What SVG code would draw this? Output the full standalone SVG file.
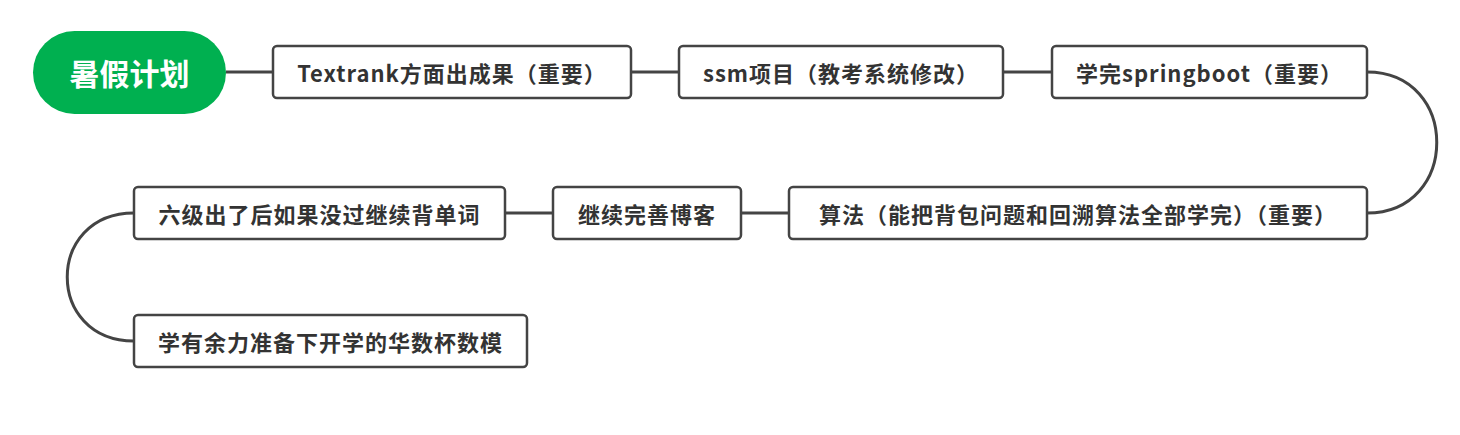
<svg xmlns="http://www.w3.org/2000/svg" width="1460" height="435" viewBox="0 0 1460 435">
<style>
.box{fill:#fff;stroke:#444;stroke-width:2.5}
.t{font-family:"Noto Sans CJK SC","Noto Sans",sans-serif;font-weight:bold;font-size:22px;letter-spacing:1px;fill:#333;text-anchor:middle;dominant-baseline:central}
.root{font-family:"Noto Sans CJK SC",sans-serif;font-weight:bold;font-size:30px;fill:#fff;text-anchor:middle;dominant-baseline:central}
.c{fill:none;stroke:#444;stroke-width:3}
</style>
<rect width="1460" height="435" fill="#fff"/>
<g id="connectors">
<path class="c" d="M226,72H273M631,72H679M1003,72H1052"/>
<path class="c" d="M1367,72C1460,72 1460,213 1367,213"/>
<path class="c" d="M741,213H789M505,213H553"/>
<path class="c" d="M134,213C45,213 45,341 134,341"/>
</g>
<g id="root"><rect x="33" y="31" width="193" height="83" rx="41.5" fill="#00b050"/><text class="root" x="129.5" y="72">暑假计划</text></g>
<g id="n1"><rect class="box" x="273" y="46" width="358" height="52" rx="4"/><text class="t" x="452" y="72">Textrank方面出成果（重要）</text></g>
<g id="n2"><rect class="box" x="679" y="46" width="324" height="52" rx="4"/><text class="t" x="841" y="72">ssm项目（教考系统修改）</text></g>
<g id="n3"><rect class="box" x="1052" y="46" width="315" height="52" rx="4"/><text class="t" x="1209.5" y="72">学完springboot（重要）</text></g>
<g id="n4"><rect class="box" x="789" y="187" width="578" height="52" rx="4"/><text class="t" x="1078" y="213">算法（能把背包问题和回溯算法全部学完）（重要）</text></g>
<g id="n5"><rect class="box" x="553" y="187" width="188" height="52" rx="4"/><text class="t" x="647" y="213">继续完善博客</text></g>
<g id="n6"><rect class="box" x="134" y="187" width="371" height="52" rx="4"/><text class="t" x="319.5" y="213">六级出了后如果没过继续背单词</text></g>
<g id="n7"><rect class="box" x="134" y="315" width="393" height="52" rx="4"/><text class="t" x="330.5" y="341">学有余力准备下开学的华数杯数模</text></g>
</svg>
